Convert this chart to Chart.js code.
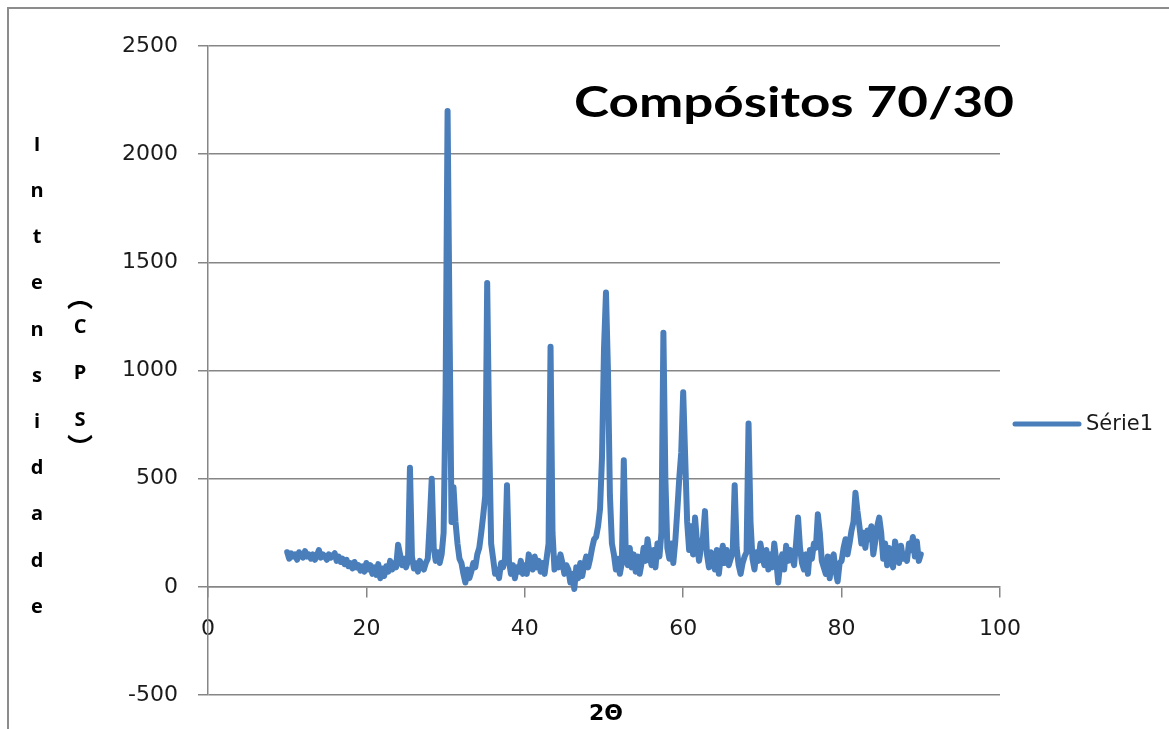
<!DOCTYPE html>
<html>
<head>
<meta charset="utf-8">
<script src="https://cdn.jsdelivr.net/npm/chart.js@4.4.1/dist/chart.umd.min.js"></script>
<style>
    html, body { margin: 0; padding: 0; background: #fff; }
    #wrap { width: 1169px; height: 729px; position: relative; }
</style>
</head>
<body>
<div id="wrap"><canvas id="xrdChart" width="1169" height="729"></canvas></div>
<script>
// Difratograma - Compósitos 70/30 (varredura 10..90 graus, passo 0,25)
const chartTitle = 'Compósitos 70/30';
const seriesLabel = 'Série1';
const xTitle = '2Θ';
const yTitleMain = 'Intensidade';
const yTitleUnit = '︵CPS︶';

const scanStart = 10;
const scanStep = 0.25;

// intensidade (CPS), 4 leituras por grau
const intensity = [
    160, 130, 155, 140,   // 10
    150, 125, 160, 145,   // 11
    135, 165, 140, 150,   // 12
    130, 150, 125, 145,   // 13
    170, 135, 150, 140,   // 14
    125, 150, 135, 145,   // 15
    155, 120, 140, 115,   // 16
    130, 105, 125, 95,    // 17
    110, 85, 115, 90,     // 18
    100, 75, 95, 70,      // 19
    110, 80, 100, 60,     // 20
    90, 55, 105, 40,      // 21
    85, 50, 95, 70,       // 22
    120, 80, 110, 90,     // 23
    195, 150, 100, 130,   // 24
    90, 120, 550, 140,    // 25
    85, 110, 70, 120,     // 26
    95, 80, 110, 130,     // 27
    300, 500, 180, 120,   // 28
    160, 110, 150, 250,   // 29
    900, 2200, 1200, 300, // 30
    460, 300, 200, 130,   // 31
    110, 60, 20, 80,      // 32
    40, 70, 110, 90,      // 33
    150, 180, 250, 330,   // 34
    420, 1405, 700, 200,  // 35
    130, 60, 80, 40,      // 36
    110, 90, 130, 470,    // 37
    120, 60, 100, 40,     // 38
    90, 70, 120, 60,      // 39
    100, 60, 150, 110,    // 40
    80, 140, 90, 120,     // 41
    70, 110, 60, 130,     // 42
    200, 1110, 250, 80,   // 43
    130, 90, 150, 110,    // 44
    60, 100, 80, 20,      // 45
    60, -10, 90, 40,      // 46
    110, 50, 100, 140,    // 47
    90, 130, 180, 220,    // 48
    230, 280, 360, 600,   // 49
    1100, 1360, 1000, 420,// 50
    200, 150, 80, 130,    // 51
    60, 110, 585, 150,    // 52
    100, 180, 90, 150,    // 53
    70, 140, 60, 110,     // 54
    180, 120, 220, 150,   // 55
    100, 170, 90, 200,    // 56
    140, 250, 1175, 500,  // 57
    180, 130, 200, 110,   // 58
    210, 350, 500, 620,   // 59
    900, 600, 300, 170,   // 60
    280, 150, 320, 200,   // 61
    120, 180, 230, 350,   // 62
    150, 90, 160, 120,    // 63
    80, 170, 60, 140,     // 64
    190, 110, 170, 100,   // 65
    130, 160, 470, 180,   // 66
    100, 60, 110, 140,    // 67
    160, 755, 300, 130,   // 68
    80, 160, 120, 200,    // 69
    140, 100, 170, 80,    // 70
    150, 90, 200, 120,    // 71
    20, 110, 150, 80,     // 72
    190, 120, 170, 140,   // 73
    100, 200, 320, 180,   // 74
    110, 80, 150, 60,     // 75
    170, 130, 200, 180,   // 76
    335, 250, 120, 90,    // 77
    60, 140, 40, 130,     // 78
    150, 70, 25, 110,     // 79
    120, 180, 220, 150,   // 80
    200, 260, 300, 435,   // 81
    350, 280, 200, 250,   // 82
    180, 260, 220, 280,   // 83
    150, 210, 280, 320,   // 84
    250, 130, 200, 100,   // 85
    180, 140, 90, 210,    // 86
    160, 110, 190, 130,   // 87
    150, 120, 200, 170,   // 88
    230, 140, 210, 120,   // 89
    150                   // 90
];

const xTicks = [0, 20, 40, 60, 80, 100];
const yTicks = [-500, 0, 500, 1000, 1500, 2000, 2500];

const lineColor = '#4a7ebb';
const gridColor = '#868686';
const textColor = '#1a1a1a';

const points = intensity.map((v, i) => ({ x: scanStart + i * scanStep, y: v }));

// desenha titulos, legenda e moldura (estilo Excel)
const decorPlugin = {
    id: 'decor',
    beforeDraw(chart) {
        const ctx = chart.ctx;
        ctx.save();
        ctx.fillStyle = '#fff';
        ctx.fillRect(0, 0, chart.width, chart.height);
        ctx.strokeStyle = '#8c8c8c';
        ctx.lineWidth = 2;
        ctx.beginPath();
        ctx.moveTo(8, chart.height + 5);
        ctx.lineTo(8, 8);
        ctx.lineTo(chart.width + 5, 8);
        ctx.stroke();
        ctx.restore();
    },
    afterDraw(chart) {
        const ctx = chart.ctx;
        ctx.save();
        ctx.fillStyle = '#000';

        // titulo, esticado na horizontal como no original
        ctx.font = 'bold 42px Lato';
        ctx.textBaseline = 'alphabetic';
        const tw = ctx.measureText(chartTitle).width;
        ctx.save();
        ctx.translate(574, 117);
        ctx.scale(440 / tw, 1);
        ctx.textAlign = 'left';
        ctx.fillText(chartTitle, 0, 0);
        ctx.restore();

        // eixo y: letras empilhadas
        ctx.font = 'bold 20px "Open Sans"';
        ctx.textAlign = 'center';
        ctx.textBaseline = 'middle';
        yTitleMain.split('').forEach((ch, i) => {
            ctx.fillText(ch, 37, 145 + i * 46.2);
        });
        // (CPS) com parenteses na forma vertical
        const unitY = [297, 327, 373, 420, 447];
        yTitleUnit.split('').forEach((ch, i) => {
            const vertical = ch === '︵' || ch === '︶';
            ctx.font = vertical ? 'bold 26px "Noto Sans CJK SC"' : 'bold 20px "Open Sans"';
            ctx.fillText(ch, 80, unitY[i]);
        });

        // eixo x
        ctx.font = 'bold 22px "DejaVu Sans"';
        ctx.fillText(xTitle, 606, 714);

        // legenda
        const ds = chart.data.datasets[0];
        ctx.strokeStyle = ds.borderColor;
        ctx.lineWidth = 5;
        ctx.lineCap = 'round';
        ctx.beginPath();
        ctx.moveTo(1015, 424);
        ctx.lineTo(1079, 424);
        ctx.stroke();
        ctx.fillStyle = textColor;
        ctx.font = '21px "DejaVu Sans"';
        ctx.textAlign = 'left';
        ctx.fillText(ds.label, 1086, 425);
        ctx.restore();
    }
};

const ctx = document.getElementById('xrdChart').getContext('2d');
new Chart(ctx, {
    type: 'line',
    data: {
        datasets: [{
            label: seriesLabel,
            data: points,
            borderColor: lineColor,
            borderWidth: 6,
            pointRadius: 0,
            tension: 0,
            fill: false,
            borderJoinStyle: 'round',
            borderCapStyle: 'round'
        }]
    },
    options: {
        responsive: false,
        animation: false,
        layout: { padding: { left: 0, top: 46, right: 169, bottom: 34 } },
        scales: {
            x: {
                type: 'linear',
                position: { y: 0 },
                min: 0,
                max: 100,
                afterFit: (s) => { s.height = 0; },
                afterBuildTicks: (s) => { s.ticks = xTicks.map(v => ({ value: v })); },
                ticks: {
                    color: textColor,
                    font: { family: 'DejaVu Sans', size: 22 },
                    padding: 19,
                    maxRotation: 0,
                    autoSkip: false,
                    callback: (v) => String(v)
                },
                grid: {
                    drawOnChartArea: false,
                    drawTicks: true,
                    tickLength: 10,
                    color: gridColor,
                    lineWidth: 1.5
                },
                border: { display: true, color: gridColor, width: 1.5 }
            },
            y: {
                min: -500,
                max: 2500,
                afterFit: (s) => { s.width = 208; },
                afterBuildTicks: (s) => { s.ticks = yTicks.map(v => ({ value: v })); },
                ticks: {
                    color: textColor,
                    font: { family: 'DejaVu Sans', size: 22 },
                    padding: 20,
                    callback: (v) => String(v)
                },
                grid: {
                    color: gridColor,
                    lineWidth: 1.5,
                    tickLength: 10
                },
                border: { display: true, color: gridColor, width: 1.5 }
            }
        },
        plugins: {
            legend: { display: false },
            title: { display: false },
            tooltip: { enabled: false }
        }
    },
    plugins: [decorPlugin]
});
</script>
</body>
</html>
